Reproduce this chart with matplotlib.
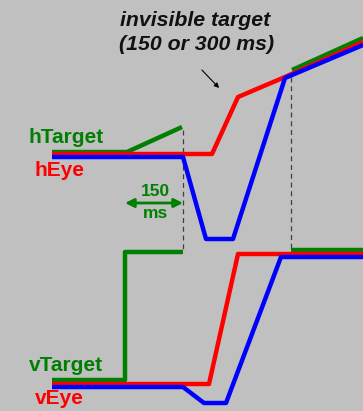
import matplotlib.pyplot as plt

plt.rcParams['font.family'] = ['Liberation Sans', 'DejaVu Sans']

# horizontal traces (time, position)
h_target_t1 = [52, 127, 182]
h_target_p1 = [152, 152, 127]
h_target_t2 = [292, 363]
h_target_p2 = [70, 38]
h_eye_red_t = [52, 212, 238, 285, 363]
h_eye_red_p = [154, 154, 97, 77, 42]
h_eye_blue_t = [52, 183, 206, 233, 285, 363]
h_eye_blue_p = [157, 157, 239, 239, 78, 45]

# vertical traces
v_target_t1 = [52, 125, 125, 183]
v_target_p1 = [380, 380, 252, 252]
v_target_t2 = [291, 363]
v_target_p2 = [250, 250]
v_eye_red_t = [52, 209, 238, 363]
v_eye_red_p = [384, 384, 254, 254]
v_eye_blue_t = [52, 183, 204, 226, 281, 363]
v_eye_blue_p = [387, 387, 403, 403, 257, 257]

# blanking markers
dash_x = [183, 291]
dash_top = [130, 77]
dash_bottom = [252, 250]

green = '#008000'
lw = 3.2

fig = plt.figure(figsize=(3.63, 4.11), dpi=100)
fig.patch.set_facecolor('#c0c0c0')
ax = fig.add_axes([0, 0, 1, 1])
ax.set_facecolor('#c0c0c0')
ax.set_xlim(0, 363)
ax.set_ylim(411, 0)
ax.axis('off')

for x, y0, y1 in zip(dash_x, dash_top, dash_bottom):
    ax.plot([x, x], [y0, y1], color='#404040', lw=0.9, ls=(0, (4, 3)))

ax.plot(h_target_t1, h_target_p1, color=green, lw=lw, solid_capstyle='butt')
ax.plot(h_target_t2, h_target_p2, color=green, lw=lw, solid_capstyle='butt')
ax.plot(h_eye_red_t, h_eye_red_p, color='red', lw=lw, solid_capstyle='butt')
ax.plot(h_eye_blue_t, h_eye_blue_p, color='blue', lw=lw, solid_capstyle='butt')

ax.plot(v_target_t1, v_target_p1, color=green, lw=lw, solid_capstyle='butt')
ax.plot(v_target_t2, v_target_p2, color=green, lw=lw, solid_capstyle='butt')
ax.plot(v_eye_red_t, v_eye_red_p, color='red', lw=lw, solid_capstyle='butt')
ax.plot(v_eye_blue_t, v_eye_blue_p, color='blue', lw=lw, solid_capstyle='butt')

lab = dict(fontsize=15, fontweight='bold', va='center', ha='left')
ax.text(28, 137, 'hTarget', color=green, **lab)
ax.text(35, 170, 'hEye', color='red', **lab)
ax.text(29, 365, 'vTarget', color=green, **lab)
ax.text(35, 398, 'vEye', color='red', **lab)

ax.text(195, 21, 'invisible target', fontsize=15.3, fontweight='bold',
        style='italic', ha='center', va='center', color='#111111')
ax.text(197, 45, '(150 or 300 ms)', fontsize=15.3, fontweight='bold',
        style='italic', ha='center', va='center', color='#111111')
ax.annotate('', xy=(221, 90), xytext=(200, 68),
            arrowprops=dict(arrowstyle='-|>', color='black', lw=0.8,
                            mutation_scale=7))

ax.annotate('', xy=(125, 203), xytext=(183, 203),
            arrowprops=dict(arrowstyle='<|-|>', color=green, lw=2,
                            mutation_scale=13, shrinkA=0, shrinkB=0))
ax.text(155, 191, '150', color=green, fontsize=12.5, fontweight='bold',
        ha='center', va='center')
ax.text(155, 213, 'ms', color=green, fontsize=12.5, fontweight='bold',
        ha='center', va='center')

fig.savefig('out.png', dpi=100, facecolor=fig.get_facecolor())
